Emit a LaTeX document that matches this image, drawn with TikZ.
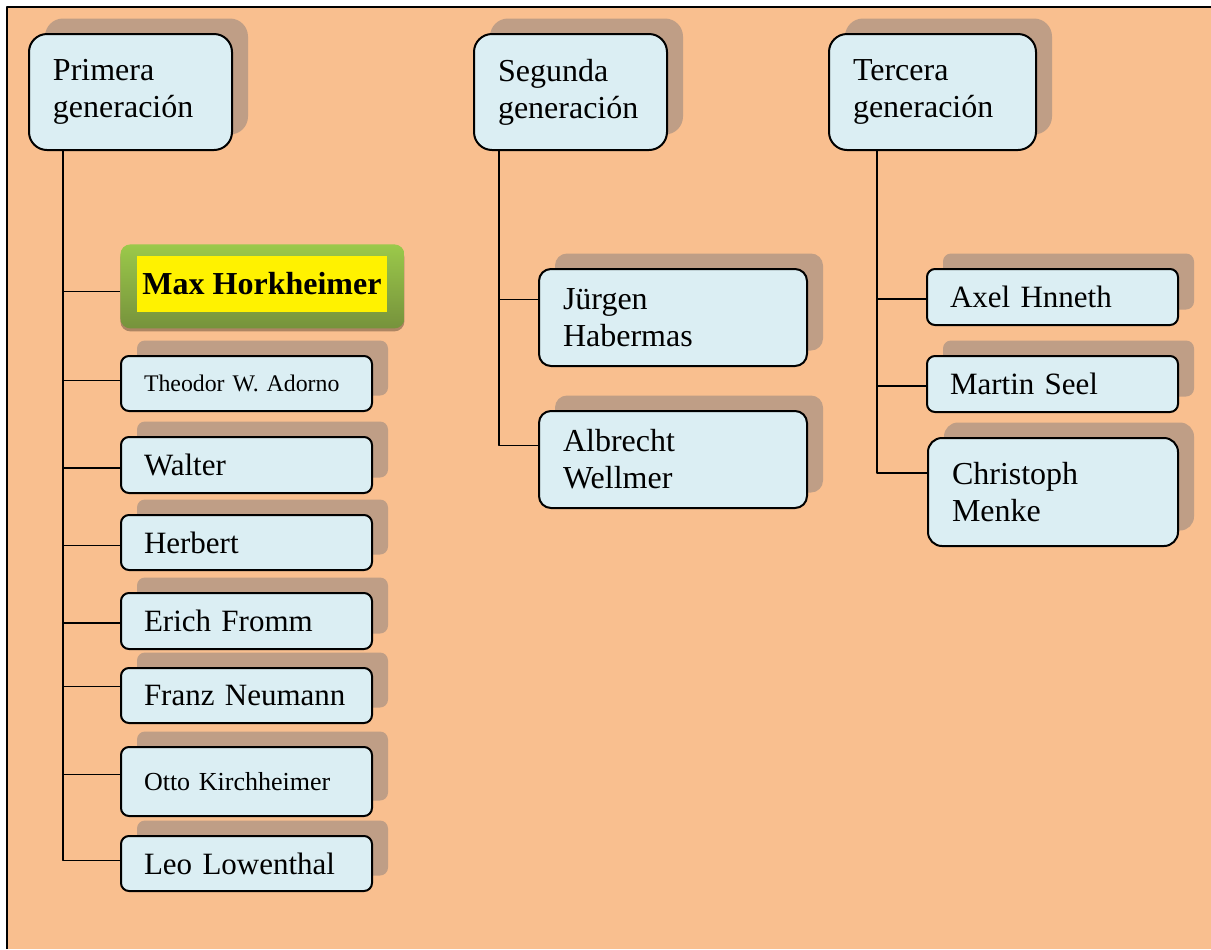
\documentclass[tikz,border=0pt]{standalone}
\usepackage{fontspec}
\setmainfont{Liberation Serif}
\usetikzlibrary{calc,shadows}
\definecolor{fondo}{HTML}{F9BF8F}
\definecolor{celeste}{HTML}{DBEEF3}
\definecolor{sombra}{HTML}{BF9E86}
\definecolor{verdeclaro}{HTML}{9BC94A}
\definecolor{verdeoscuro}{HTML}{76923C}
\begin{document}
\begin{tikzpicture}[x=0.5pt,y=-0.5pt,line join=round,font=\fontsize{16}{18.5}\selectfont,
    caja/.style={draw,line width=1pt,fill=celeste,anchor=north west,align=left,
        inner xsep=12pt,inner ysep=0pt,rounded corners=4pt,
        drop shadow={shadow xshift=8pt,shadow yshift=7.75pt,fill=sombra,opacity=1}},
    cabeza/.style={caja,rounded corners=9pt,minimum height=58pt},
    hijo/.style={caja,inner xsep=11.5pt,text width=102.5pt,font=\fontsize{15.5}{18}\selectfont},
    linea/.style={line width=0.9pt}]
    \useasboundingbox (0,0) rectangle (1211,949);
    \fill[fondo] (7,7) rectangle (1211,949);
    \draw[line width=1.25pt] (7,949) -- (7,7) -- (1211,7);
    % generaciones
    \node[cabeza,text width=77.5pt] (pg) at (28,33) {Primera\\generación};
    \node[cabeza,text width=72.5pt] (sg) at (473,33) {Segunda\\generación};
    \node[cabeza,text width=79.5pt] (tg) at (828,33) {Tercera\\generación};
    % primera generacion
    \node[anchor=north west,minimum width=142pt,minimum height=42pt,rounded corners=5pt,
        top color=verdeclaro,bottom color=verdeoscuro,
        drop shadow={shadow xshift=0pt,shadow yshift=-1.5pt,fill=black,opacity=0.3}] (mhf) at (120,244) {};
    \node[fill=yellow,minimum width=125pt,minimum height=28pt,inner sep=0pt,
        font=\fontsize{16}{18.5}\selectfont\bfseries] (mh) at (262,284) {Max Horkheimer};
    \node[hijo,minimum height=27.5pt,font=\fontsize{11.9}{14}\selectfont] (th) at (120,355) {Theodor W. Adorno};
    \node[hijo,minimum height=28pt] (wa) at (120,436) {Walter};
    \node[hijo,minimum height=27.5pt] (he) at (120,514) {Herbert};
    \node[hijo,minimum height=28pt] (ef) at (120,592) {Erich Fromm};
    \node[hijo,minimum height=27.5pt] (fn) at (120,667) {Franz Neumann};
    \node[hijo,minimum height=34.5pt,font=\fontsize{13}{15}\selectfont] (ok) at (120,746) {Otto Kirchheimer};
    \node[hijo,minimum height=27.5pt] (ll) at (120,835) {Leo Lowenthal};
    % segunda generacion
    \node[caja,rounded corners=6pt,text width=110pt,minimum height=48.5pt] (jh) at (538,268) {Jürgen\\Habermas};
    \node[caja,rounded corners=6pt,text width=110pt,minimum height=48.5pt] (aw) at (538,410) {Albrecht\\Wellmer};
    % tercera generacion
    \node[hijo,minimum height=28pt] (ah) at (926,268) {Axel Hnneth};
    \node[hijo,minimum height=28pt] (ms) at (926,355) {Martin Seel};
    \node[caja,rounded corners=7pt,text width=101pt,minimum height=54pt] (cm) at (927,437) {Christoph\\Menke};
    % conectores
    \coordinate (p0) at ($(pg.south west)+(35,0)$);
    \coordinate (s0) at ($(sg.south west)+(26,0)$);
    \coordinate (t0) at ($(tg.south west)+(49,0)$);
    \foreach \n/\d in {mhf/5,th/-3,wa/3,he/3,ef/2,fn/-9,ok/-7,ll/-3}
        \draw[linea] (p0) |- ([yshift=-\d*0.5pt]\n.west);
    \foreach \n/\d in {jh/-18,aw/-14}
        \draw[linea] (s0) |- ([yshift=-\d*0.5pt]\n.west);
    \foreach \n/\d in {ah/2,ms/2,cm/-19}
        \draw[linea] (t0) |- ([yshift=-\d*0.5pt]\n.west);
\end{tikzpicture}
\end{document}
